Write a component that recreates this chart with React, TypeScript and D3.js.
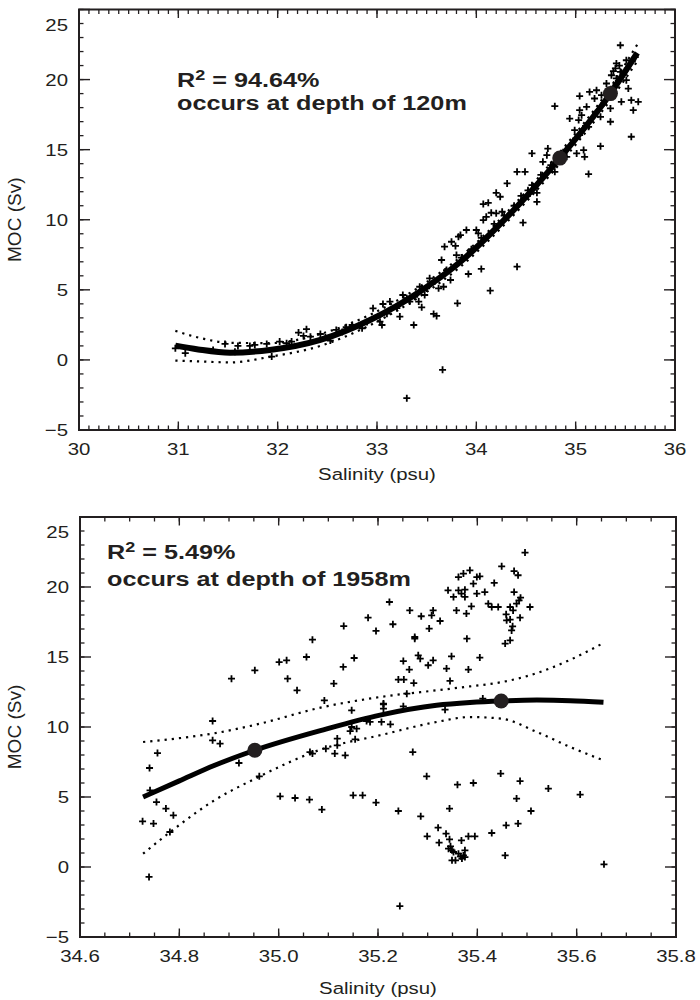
import React from 'react';
import * as d3 from 'd3';

// ---------- DATA ----------
const topPoints: [number, number][] = [
  [30.97,0.83],[31.07,0.48],[31.35,0.71],[31.47,1.14],[31.6,1.0],[31.57,0.59],[31.72,1.0],[31.77,1.07],[31.89,1.14],[31.94,0.24],
  [32.02,1.31],[32.09,1.19],[32.14,1.31],[32.21,1.95],[32.29,2.19],[32.26,1.71],[32.33,1.66],[32.43,1.85],[32.53,1.38],[32.59,2.14],
  [32.69,2.33],[32.75,2.49],[32.85,2.26],[32.96,3.68],[33.03,2.73],[33.05,2.49],[33.06,3.99],[33.13,4.16],[33.23,3.09],[33.26,4.63],
  [33.3,4.4],[33.37,2.49],[33.33,4.16],[33.42,4.16],[33.43,5.22],[33.45,3.75],[33.48,4.63],[33.53,5.82],[33.57,3.28],[33.6,3.14],
  [33.62,5.11],[33.67,5.22],[33.65,7.13],[33.68,8.08],[33.75,8.43],[33.79,8.13],[33.7,6.41],[33.74,5.7],[33.8,7.48],[33.82,8.79],
  [33.81,4.04],[33.66,-0.71],[33.3,-2.73],[34.41,6.65],[34.14,4.94],[34.05,6.49],[33.92,6.13],[33.84,8.91],[33.9,9.27],[34.0,9.27],
  [34.02,9.03],[34.07,9.98],[34.1,10.21],[34.15,10.5],[34.2,10.46],[34.26,10.57],[34.07,11.12],[34.12,11.21],[34.2,11.92],[34.24,11.64],
  [34.31,12.59],[34.41,13.42],[34.49,13.42],[34.47,9.79],[34.54,11.88],[34.56,12.47],[34.61,11.92],[34.61,11.28],[34.67,14.13],[34.56,14.73],
  [34.71,14.61],[34.72,15.08],[34.79,13.42],[34.79,18.1],[34.91,14.49],[34.94,17.22],[34.99,16.39],[35.01,14.73],[35.03,17.11],[35.04,16.04],
  [35.04,17.82],[35.04,18.82],[35.06,17.46],[35.08,14.97],[35.09,14.49],[35.11,18.06],[35.13,16.63],[35.13,13.26],[35.14,19.12],[35.19,18.65],
  [35.21,19.24],[35.25,17.34],[35.25,15.25],[35.26,18.89],[35.31,19.72],[35.35,17.94],[35.35,16.99],[35.36,20.31],[35.4,20.8],[35.41,21.15],
  [35.41,20.08],[35.45,20.55],[35.45,22.45],[35.46,18.41],[35.51,21.38],[35.51,19.96],[35.53,19.36],[35.56,18.53],[35.56,15.92],[35.58,17.82],
  [35.6,21.6],[35.63,18.41],
  [32.48,1.6],[32.65,2.0],[32.9,2.7],[33.1,3.3],[33.2,3.7],[33.38,4.5],[33.5,5.1],[33.58,5.6],[33.85,7.3],[33.95,7.9],
  [34.05,8.7],[34.18,9.7],[34.28,10.3],[34.38,11.0],[34.45,11.7],[34.52,12.1],[34.65,13.2],[34.75,13.9],[34.9,15.0],[35.0,15.8],
  [35.1,16.7],[35.2,17.6],[35.28,18.3],[35.32,18.8],[35.38,19.5],[35.43,19.9],[35.48,20.4],[35.52,20.8],[35.57,21.3],[35.44,21.0],[35.38,20.6],
];
const topFitSalinity = [30.97, 31.2, 31.52, 31.92, 32.43, 32.93, 33.43, 33.84, 34.31, 34.84, 35.35, 35.62];
const topFitMoc = [1.02, 0.75, 0.52, 0.71, 1.43, 2.85, 4.87, 7.0, 10.2, 14.4, 19.0, 21.9];
const topUpperMoc = [2.07, 1.6, 1.22, 1.2, 1.85, 3.22, 5.22, 7.35, 10.55, 14.8, 19.45, 22.5];
const topLowerMoc = [-0.05, -0.1, -0.18, 0.22, 1.0, 2.48, 4.52, 6.65, 9.85, 14.0, 18.55, 21.3];
const topMarkers: [number, number][] = [[34.84, 14.4], [35.35, 19.0]];

const bottomPoints: [number, number][] = [
  [35.18,17.81],[35.131,17.21],[35.196,16.86],[35.068,16.24],[35.001,14.64],[35.016,14.76],[35.056,15.0],[35.152,14.93],[35.13,14.29],[34.952,14.05],
  [34.905,13.45],[35.018,13.45],[35.037,12.62],[35.111,13.1],[35.092,11.9],[35.147,11.19],[34.867,10.43],[34.867,9.05],[34.882,8.81],[34.756,8.14],
  [34.74,7.07],[34.741,5.48],[34.754,4.64],[34.773,4.17],[34.788,3.69],[34.726,3.26],[34.748,3.1],[34.781,2.5],[34.739,-0.71],[34.92,7.43],
  [34.961,6.48],[35.003,5.05],[35.033,4.93],[35.062,4.81],[35.087,4.1],[35.15,5.12],[35.169,5.12],[35.196,4.6],[35.063,8.21],[35.068,8.1],
  [35.095,8.45],[35.113,8.1],[35.134,7.98],[35.118,8.69],[35.118,9.17],[35.144,9.71],[35.157,9.88],[35.154,9.12],[35.177,10.43],[35.147,10.0],
  [35.184,10.36],[35.207,10.36],[35.211,11.67],[35.211,11.31],
  [35.496,22.46],[35.449,21.48],[35.474,21.14],[35.482,20.84],[35.362,20.71],[35.372,20.96],[35.385,21.19],[35.399,20.71],[35.405,20.76],[35.392,20.24],
  [35.434,20.29],[35.341,19.76],[35.362,19.76],[35.375,19.81],[35.368,19.53],[35.352,19.29],[35.375,19.29],[35.399,19.53],[35.415,19.64],[35.474,19.64],
  [35.487,19.24],[35.484,19.05],[35.479,18.81],[35.422,18.81],[35.429,18.57],[35.442,18.57],[35.466,18.57],[35.472,18.33],[35.506,18.57],[35.358,18.33],
  [35.388,18.62],[35.378,18.1],[35.458,18.05],[35.466,17.67],[35.459,17.62],[35.486,17.81],[35.471,17.19],[35.469,16.9],[35.466,16.19],[35.456,15.96],
  [35.379,16.31],[35.264,18.33],[35.287,17.91],[35.311,18.33],[35.308,17.98],[35.325,17.57],[35.303,17.03],[35.223,18.93],[35.23,17.34],[35.274,16.43],
  [35.274,16.31],[35.281,15.12],[35.285,14.88],[35.251,14.71],[35.301,14.41],[35.311,14.76],[35.348,15.05],[35.338,14.17],[35.382,14.1],[35.405,14.96],
  [35.263,14.1],[35.241,13.39],[35.252,13.39],[35.272,13.14],[35.345,13.29],[35.258,12.38],[35.211,11.62],[35.251,11.48],[35.335,11.24],[35.411,12.03],
  [35.225,10.19],[35.27,8.21],[35.298,6.48],[35.36,5.88],[35.392,6.0],[35.447,6.67],[35.486,6.14],[35.543,5.6],[35.607,5.17],[35.479,4.89],
  [35.241,4.0],[35.286,3.62],[35.344,4.17],[35.508,4.0],[35.321,2.81],[35.337,2.38],[35.299,2.19],[35.458,2.98],[35.482,3.1],[35.429,2.43],
  [35.382,2.19],[35.395,2.19],[35.323,1.74],[35.344,1.98],[35.368,1.9],[35.342,1.31],[35.349,1.19],[35.346,1.48],[35.352,1.07],[35.362,0.95],
  [35.366,0.76],[35.372,0.83],[35.375,1.19],[35.375,0.71],[35.369,0.6],[35.356,0.48],[35.349,0.48],[35.456,0.83],[35.655,0.19],[35.244,-2.79],
];
const bottomFitSalinity = [34.727, 34.8, 34.87, 34.952, 35.09, 35.204, 35.318, 35.385, 35.448, 35.52, 35.587, 35.654];
const bottomFitMoc = [5.0, 6.15, 7.25, 8.34, 9.8, 10.85, 11.55, 11.75, 11.86, 11.92, 11.88, 11.76];
const bottomUpperMoc = [8.93, 9.2, 9.55, 10.15, 11.43, 12.14, 12.62, 12.9, 13.2, 13.85, 14.8, 16.0];
const bottomLowerMoc = [0.95, 3.0, 4.75, 6.3, 8.45, 9.41, 10.36, 10.71, 10.6, 9.64, 8.57, 7.62];
const bottomMarkers: [number, number][] = [[34.952, 8.34], [35.448, 11.86]];

const topXTicks = [30, 31, 32, 33, 34, 35, 36];
const bottomXTicks = [34.6, 34.8, 35.0, 35.2, 35.4, 35.6, 35.8];
const yTicks = [-5, 0, 5, 10, 15, 20, 25];

// ---------- RENDERING ----------
const FONT = 'Liberation Sans, Arial, Helvetica, sans-serif';
const SX = 1.2;

function T({ x, y, anchor = 'start', size = 17, weight = 'normal', children }: any) {
  return (
    <text transform={`translate(${x},${y}) scale(${SX},1)`} textAnchor={anchor} fontSize={size}
      fontWeight={weight} fontFamily={FONT} fill="#231f20">{children}</text>
  );
}

function Panel(p: any) {
  const x = d3.scaleLinear().domain(p.xDomain).range([p.left, p.right]);
  const y = d3.scaleLinear().domain([-5, 25]).range([p.bottom, p.top]);
  const xMinor = d3.range(p.xDomain[0], p.xDomain[1] + 1e-9, p.xMinorStep);
  const yMinor = d3.range(-5, 25 + 1e-9, 1);
  const line = d3.line<number>().x((_, i) => x(p.fitX[i])).curve(d3.curveMonotoneX);
  const fitPath = line.y((v) => y(v))(p.fitY);
  const upPath = line.y((v) => y(v))(p.upY);
  const loPath = line.y((v) => y(v))(p.loY);
  const tickStroke = '#231f20';
  return (
    <g>
      {xMinor.map((v: number, i: number) => (
        <g key={'xm' + i}>
          <line x1={x(v)} x2={x(v)} y1={p.bottom} y2={p.bottom - 4.5} stroke={tickStroke} strokeWidth={1.3} />
          <line x1={x(v)} x2={x(v)} y1={p.top} y2={p.top + 4.5} stroke={tickStroke} strokeWidth={1.3} />
        </g>
      ))}
      {yMinor.map((v: number, i: number) => (
        <g key={'ym' + i}>
          <line x1={p.left} x2={p.left + 4.5} y1={y(v)} y2={y(v)} stroke={tickStroke} strokeWidth={1.3} />
          <line x1={p.right} x2={p.right - 4.5} y1={y(v)} y2={y(v)} stroke={tickStroke} strokeWidth={1.3} />
        </g>
      ))}
      {p.xTicks.map((v: number, i: number) => (
        <g key={'xM' + i}>
          <line x1={x(v)} x2={x(v)} y1={p.bottom} y2={p.bottom - 8.5} stroke={tickStroke} strokeWidth={1.4} />
          <line x1={x(v)} x2={x(v)} y1={p.top} y2={p.top + 8.5} stroke={tickStroke} strokeWidth={1.4} />
          <T x={x(v)} y={p.bottom + 25} anchor="middle">{p.xFormat(v)}</T>
        </g>
      ))}
      {yTicks.map((v, i) => (
        <g key={'yM' + i}>
          <line x1={p.left} x2={p.left + 11} y1={y(v)} y2={y(v)} stroke={tickStroke} strokeWidth={1.4} />
          <line x1={p.right} x2={p.right - 11} y1={y(v)} y2={y(v)} stroke={tickStroke} strokeWidth={1.4} />
          <T x={p.left - 11} y={Math.max(y(v), p.top + 15) + 6} anchor="end">{v < 0 ? '\u2212' + Math.abs(v) : String(v)}</T>
        </g>
      ))}
      <rect x={p.left} y={p.top} width={p.right - p.left} height={p.bottom - p.top} fill="none" stroke="#231f20" strokeWidth={2} />

      <path d={upPath || ''} fill="none" stroke="#000" strokeWidth={2.2} strokeDasharray="2.2 5" />
      <path d={loPath || ''} fill="none" stroke="#000" strokeWidth={2.2} strokeDasharray="2.2 5" />

      {p.points.map((d: [number, number], i: number) => {
        const cx = x(d[0]), cy = y(d[1]);
        return (
          <path key={'pt' + i} d={`M${cx - 3.5},${cy}H${cx + 3.5}M${cx},${cy - 3.5}V${cy + 3.5}`}
            stroke="#000" strokeWidth={1.8} fill="none" />
        );
      })}

      <path d={fitPath || ''} fill="none" stroke="#000" strokeWidth={p.fitWidth} />
      {p.markers.map((d: [number, number], i: number) => (
        <circle key={'mk' + i} cx={x(d[0])} cy={y(d[1])} r={7.5} fill="#231f20" />
      ))}

      <T x={p.annX} y={p.annY1} size={21} weight="bold">
        R<tspan dy={-7} fontSize={15}>2</tspan><tspan dy={7}>{' = ' + p.r2}</tspan>
      </T>
      <T x={p.annX} y={p.annY2} size={21} weight="bold">{'occurs at depth of ' + p.depth}</T>

      <T x={(p.left + p.right) / 2} y={p.xTitleY} anchor="middle">Salinity (psu)</T>
      <text transform={`translate(21,${(p.top + p.bottom) / 2}) rotate(-90)`} textAnchor="middle"
        fontSize={19} fontFamily={FONT} fill="#231f20">MOC (Sv)</text>
    </g>
  );
}

export default function App() {
  return (
    <div style={{ position: 'absolute', left: 0, top: 0 }}>
      <svg width={700} height={1000} style={{ display: 'block', background: '#fff' }}>
        <Panel
          xDomain={[30, 36]} left={79} right={675} top={9.5} bottom={430}
          xTicks={topXTicks} xMinorStep={0.1} xFormat={(v: number) => d3.format('d')(v)}
          points={topPoints} fitX={topFitSalinity} fitY={topFitMoc} upY={topUpperMoc} loY={topLowerMoc}
          markers={topMarkers} fitWidth={6}
          annX={177} annY1={87} annY2={110} r2="94.64%" depth="120m" xTitleY={480}
        />
        <Panel
          xDomain={[34.6, 35.8]} left={80} right={676} top={517} bottom={937}
          xTicks={bottomXTicks} xMinorStep={0.05} xFormat={(v: number) => d3.format('.1f')(v)}
          points={bottomPoints} fitX={bottomFitSalinity} fitY={bottomFitMoc} upY={bottomUpperMoc} loY={bottomLowerMoc}
          markers={bottomMarkers} fitWidth={5}
          annX={107} annY1={559} annY2={586} r2="5.49%" depth="1958m" xTitleY={994}
        />
      </svg>
    </div>
  );
}
